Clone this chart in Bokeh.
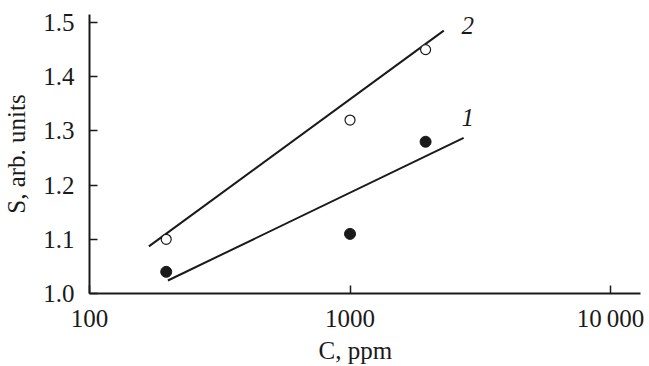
import math
from bokeh.plotting import figure
from bokeh.models import Label, FixedTicker, Range1d, Title
from bokeh.embed import file_html
from bokeh.resources import INLINE

# data
conc = [197, 1000, 1950]
s_series1 = [1.04, 1.11, 1.28]   # filled circles, curve 1
s_series2 = [1.10, 1.32, 1.45]   # open circles, curve 2
fit1_c = [200, 2730]
fit1_s = [1.024, 1.287]
fit2_c = [169, 2290]
fit2_s = [1.087, 1.485]
x_ticks = [100, 1000, 10000]
x_tick_labels = ["100", "1000", "10\u2009000"]
y_ticks = [1.0, 1.1, 1.2, 1.3, 1.4, 1.5]
curve_names = ["2", "1"]

FONT = "Liberation Serif"
INK = "#1a1a1a"
W, H = 649, 366
L, R, T, B = 88, 9, 14, 73
X0, X1 = 100, 13030
Y0, Y1 = 1.0, 1.5148

p = figure(width=W, height=H, x_axis_type="log", output_backend="svg",
           toolbar_location=None, x_range=Range1d(X0, X1), y_range=Range1d(Y0, Y1),
           min_border_left=L, min_border_right=R, min_border_top=T, min_border_bottom=B)
p.outline_line_color = None
p.grid.grid_line_color = None
p.background_fill_color = "white"
p.border_fill_color = "white"

for ax in (p.xaxis[0], p.yaxis[0]):
    ax.axis_line_width = 2
    ax.axis_line_color = INK
    ax.major_tick_in = 8
    ax.major_tick_out = 0
    ax.major_tick_line_width = 1.5
    ax.major_tick_line_color = INK
    ax.minor_tick_line_color = None
    ax.major_label_text_font = FONT
    ax.major_label_text_font_size = "25px"
    ax.major_label_text_color = INK
    ax.axis_label_text_font = FONT
    ax.axis_label_text_font_size = "25px"
    ax.axis_label_text_font_style = "normal"
    ax.axis_label_text_color = INK

p.xaxis.ticker = FixedTicker(ticks=x_ticks)
p.xaxis.major_label_overrides = {t: s for t, s in zip(x_ticks, x_tick_labels)}
p.xaxis.major_label_standoff = 11

p.yaxis.ticker = FixedTicker(ticks=y_ticks)
p.yaxis.major_label_overrides = {t: f"{t:.1f}" for t in y_ticks}
p.yaxis.major_label_standoff = 15
p.yaxis.axis_label = "S, arb. units"
p.yaxis.axis_label_standoff = 10

# x-axis title as a bottom title so it can sit slightly left of centre, as in the reference
p.add_layout(Title(text="C, ppm", align="left", offset=229, standoff=0,
                   text_font=FONT, text_font_size="25px", text_font_style="normal",
                   text_color=INK), "below")

p.line(fit2_c, fit2_s, line_color=INK, line_width=2)
p.line(fit1_c, fit1_s, line_color=INK, line_width=2)
p.scatter(conc, s_series2, size=10, fill_color="white", line_color=INK, line_width=1.2)
p.scatter(conc, s_series1, size=11, fill_color=INK, line_color=INK)

# curve numbers placed just past the end of each fit line
p.add_layout(Label(x=fit2_c[1], y=fit2_s[1], text=curve_names[0], text_font=FONT,
                   text_font_style="italic", text_font_size="25px", text_color=INK,
                   x_offset=24, y_offset=5, text_align="center", text_baseline="middle"))
p.add_layout(Label(x=fit1_c[1], y=fit1_s[1], text=curve_names[1], text_font=FONT,
                   text_font_style="italic", text_font_size="25px", text_color=INK,
                   x_offset=4, y_offset=20, text_align="center", text_baseline="middle"))

open("out.html", "w").write(file_html(p, INLINE))
